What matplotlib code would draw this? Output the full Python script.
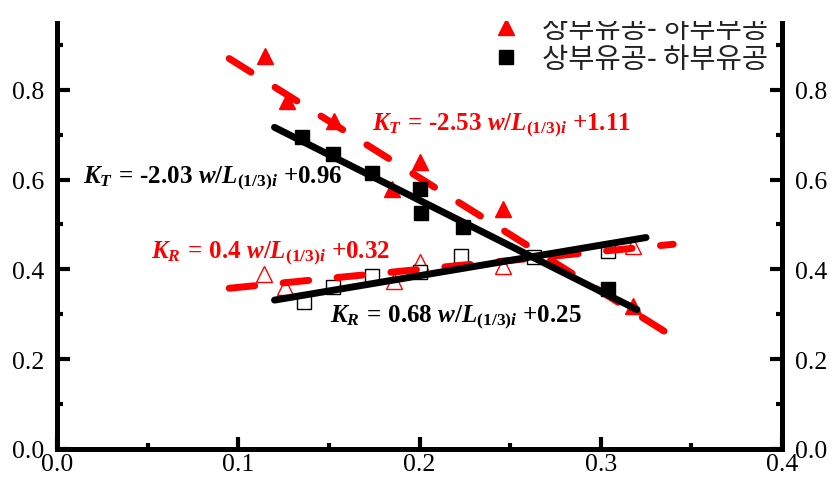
import matplotlib
matplotlib.use('Agg')
import matplotlib.pyplot as plt
from matplotlib.lines import Line2D
from matplotlib.patches import Rectangle
from matplotlib.ticker import MultipleLocator
import numpy as np

# 상부유공- 하부무공 (red triangles) / 상부유공- 하부유공 (black squares)
labels = ['상부유공- 하부무공', '상부유공- 하부유공']

# K_T, filled markers
kt_red_x = [0.115, 0.127, 0.153, 0.185, 0.200, 0.246, 0.318]
kt_red_y = [0.875, 0.775, 0.730, 0.579, 0.639, 0.535, 0.318]
kt_blk_x = [0.135, 0.152, 0.174, 0.200, 0.201, 0.224, 0.304]
kt_blk_y = [0.695, 0.657, 0.615, 0.579, 0.526, 0.494, 0.356]

# K_R, open markers
kr_red_x = [0.114, 0.126, 0.186, 0.200, 0.246, 0.318]
kr_red_y = [0.390, 0.361, 0.374, 0.416, 0.408, 0.452]
kr_blk_x = [0.136, 0.152, 0.174, 0.200, 0.223, 0.263, 0.304]
kr_blk_y = [0.327, 0.361, 0.385, 0.394, 0.430, 0.428, 0.441]

# fitted lines: slope, intercept, x range
fit_kt_red = (-2.53, 1.11, 0.095, 0.34)
fit_kt_blk = (-2.03, 0.96, 0.12, 0.32)
fit_kr_red = (0.4, 0.32, 0.095, 0.34)
fit_kr_blk = (0.68, 0.25, 0.12, 0.325)

plt.rcParams['mathtext.fontset'] = 'custom'
plt.rcParams['mathtext.rm'] = 'Liberation Serif:bold'
plt.rcParams['mathtext.it'] = 'Liberation Serif:italic:bold'
plt.rcParams['mathtext.bf'] = 'Liberation Serif:bold'

RED = '#ff0000'

fig = plt.figure(figsize=(8.4, 4.85), dpi=100)
ax = fig.add_axes([57/840, 35/485, 725/840, 427/485])

def fit_line(fit):
    a, b, x0, x1 = fit
    xs = np.array([x0, x1])
    return xs, a*xs + b

def eq(sub, slope, icpt):
    # K_sub = slope w/L_(1/3)i +icpt
    return (r'$K_%s\,=\,\mathrm{%s}\ w\mathrm{/}L_{\mathrm{(1/3)}i}\ \mathrm{+%s}$'
            % (sub, slope.replace('-', '\u2010'), icpt))

# open markers
ax.plot(kr_red_x, kr_red_y, ls='none', marker='^', ms=11.5, mfc='white', mec=RED, mew=1, zorder=2)
ax.plot(kr_blk_x, kr_blk_y, ls='none', marker='s', ms=9.5, mfc='white', mec='black', mew=1, zorder=2)
# filled triangles
ax.plot(kt_red_x, kt_red_y, ls='none', marker='^', ms=11.5, color=RED, zorder=2)

# fitted lines
for fit in (fit_kt_red, fit_kr_red):
    xs, ys = fit_line(fit)
    ax.plot(xs, ys, color=RED, lw=5, dashes=(3.7, 4.1), dash_capstyle='round', zorder=3)
for fit in (fit_kt_blk, fit_kr_blk):
    xs, ys = fit_line(fit)
    ax.plot(xs, ys, color='black', lw=5, solid_capstyle='round', zorder=4)

ax.plot(kt_blk_x, kt_blk_y, ls='none', marker='s', ms=9.5, color='black', zorder=5)

# equations
eq_fs = 18
ax.text(0.1738, 0.713, eq('T', '-2.53', '1.11'), color=RED, fontsize=eq_fs, va='baseline', ha='left')
ax.text(0.0143, 0.595, eq('T', '-2.03', '0.96'), color='black', fontsize=eq_fs, va='baseline', ha='left')
ax.text(0.052, 0.428, eq('R', '0.4', '0.32'), color=RED, fontsize=eq_fs, va='baseline', ha='left')
ax.text(0.1506, 0.286, eq('R', '0.68', '0.25'), color='black', fontsize=eq_fs, va='baseline', ha='left')

ax.set_xlim(0, 0.4)
ax.set_ylim(0, 0.951)
ax.xaxis.set_major_locator(MultipleLocator(0.1))
ax.xaxis.set_minor_locator(MultipleLocator(0.05))
ax.yaxis.set_major_locator(MultipleLocator(0.2))
ax.yaxis.set_minor_locator(MultipleLocator(0.1))
ax.xaxis.set_major_formatter(plt.FormatStrFormatter('%.1f'))
ax.yaxis.set_major_formatter(plt.FormatStrFormatter('%.1f'))

ax.spines['top'].set_visible(False)
for s in ('left', 'right', 'bottom'):
    ax.spines[s].set_linewidth(3.6)
ax.tick_params(which='both', direction='in', right=True, labelright=True, top=False,
               width=3, labelsize=18.5, pad=9)
ax.tick_params(which='major', length=9)
ax.tick_params(which='minor', length=4)
ax.tick_params(axis='x', pad=3)
for lab in ax.get_xticklabels() + ax.get_yticklabels():
    lab.set_fontfamily('Liberation Serif')
for t in ax.yaxis.get_major_ticks():
    t.label2.set_fontfamily('Liberation Serif')

handles = [Line2D([], [], ls='none', marker='^', ms=11.5, color=RED),
           Line2D([], [], ls='none', marker='s', ms=9.5, color='black')]
leg = ax.legend(handles, labels, loc='upper left', bbox_to_anchor=(478/840, 1 - 1/485),
                bbox_transform=fig.transFigure, frameon=False, borderpad=0,
                handlelength=1.0, handletextpad=0.75, labelspacing=0.0,
                prop={'family': 'Noto Sans CJK KR', 'size': 20.5})
for t in leg.get_texts():
    t.set_color('#222222')

# top of the picture is cut off in the source
fig.add_artist(Rectangle((0, 1 - 22/485), 1, 22/485, transform=fig.transFigure,
                         facecolor='white', edgecolor='none', zorder=10))

fig.savefig('out.png', dpi=100)
